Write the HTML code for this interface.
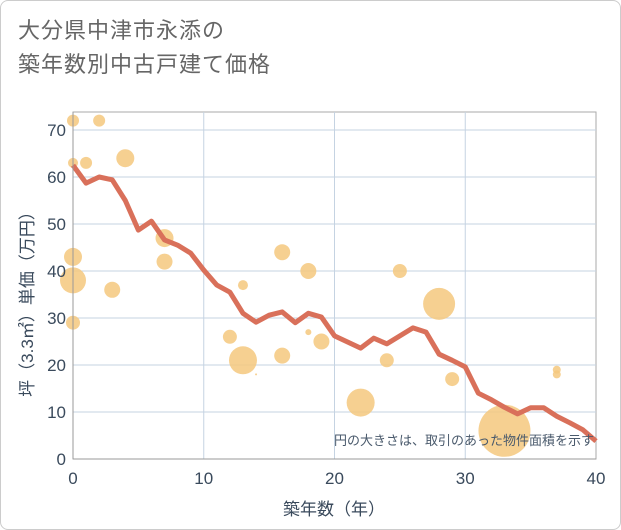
<!DOCTYPE html>
<html><head><meta charset="utf-8"><style>
body{margin:0;background:#fff}
#wrap{position:relative;width:621px;height:530px;font-family:"Liberation Sans","Noto Sans CJK JP",sans-serif}
#frame{position:absolute;left:0;top:0;width:619px;height:528px;border:1px solid #ccc;border-radius:8px}
#title{position:absolute;left:18px;top:14px;font-size:22px;line-height:34px;color:#666;letter-spacing:1px}
</style></head><body>
<div id="wrap">
<div id="frame"></div>
<div id="title">大分県中津市永添の<br>築年数別中古戸建て価格</div>
<svg id="svg" width="621" height="530" style="position:absolute;left:0;top:0"></svg>
</div>
<script>
const xTicks=[0,10,20,30,40];
const yTicks=[0,10,20,30,40,50,60,70];
const lineYears=[0,1,2,3,4,5,6,7,8,9,10,11,12,13,14,15,16,17,18,19,20,21,22,23,24,25,26,27,28,29,30,31,32,33,34,35,36,37,38,39,40];
const lineValues=[62.5,58.7,60,59.4,55,48.7,50.6,46.6,45.5,43.8,40.2,37,35.5,31,29.1,30.6,31.3,29,31,30.2,26.2,24.9,23.6,25.7,24.5,26.2,27.9,27,22.3,21,19.6,14,12.6,11,9.6,10.9,10.9,9.1,7.7,6.2,3.8];
const bubbleX=[0,2,0,1,4,0,0,3,0,7,7,13,12,13,16,18,16,18,19,14,22,24,25,28,29,33,37,37];
const bubbleY=[72,72,63,63,64,43,38,36,29,47,42,37,26,21,44,40,22,27,25,18,12,21,40,33,17,6,19,18];
const bubbleR=[6,6,5,6,9,9,13,8,7,9,8,5,7,14,8,8,8,3,8,1,14,7,7,16,7,26,4,4];
const L=73,R=596,T=112,B=459;
const xs=v=>L+(v-0)/40*(R-L);
const ys=v=>B-v/70*(B-130);
const svg=document.getElementById('svg');const NS='http://www.w3.org/2000/svg';
function mk(t,a){const e=document.createElementNS(NS,t);for(const k in a)e.setAttribute(k,a[k]);svg.appendChild(e);return e;}
const bg=mk('rect',{x:L,y:T,width:R-L,height:B-T,fill:'#fff',stroke:'#aaa'});


for(let i=10;i<40;i+=10){
 const g=mk('line',{x1:xs(i),x2:xs(i),y1:T,y2:B,stroke:'#c5d3e2'});
 
 
}
for(let v=10;v<=70;v+=10){
 const g=mk('line',{x1:L,x2:R,y1:ys(v),y2:ys(v),stroke:'#c5d3e2'});
 
 
}
for(let i=0;i<bubbleX.length;i++){
 const c=mk('circle',{cx:xs(bubbleX[i]),cy:ys(bubbleY[i]),r:bubbleR[i],fill:'#f5c87e',opacity:0.85});
 
 
}
const p=mk('polyline',{points:lineYears.map((x,i)=>xs(x)+','+ys(lineValues[i])).join(' '),fill:'none',stroke:'#d9705a','stroke-width':5,'stroke-linejoin':'round'});


const ax=mk('line',{x1:L,x2:L,y1:T,y2:B,stroke:'#999'});


const ax2=mk('line',{x1:L,x2:R,y1:B,y2:B,stroke:'#999'});


xTicks.forEach(v=>{const t=mk('text',{x:xs(v),y:484,'text-anchor':'middle','font-size':17,fill:'#3a4a5c'});t.textContent=v;
 
 });
yTicks.forEach(v=>{const t=mk('text',{x:66,y:ys(v)+6,'text-anchor':'end','font-size':17,fill:'#3a4a5c'});t.textContent=v;
 
 });
const xt=mk('text',{x:334,y:515,'text-anchor':'middle','font-size':17,fill:'#3a4a5c'});xt.textContent='築年数（年）';


const yt=mk('text',{x:0,y:0,'text-anchor':'middle','font-size':17,fill:'#3a4a5c',transform:'translate(33,300) rotate(-90)'});yt.textContent='坪（3.3㎡）単価（万円）';


const n=mk('text',{x:594,y:445,'text-anchor':'end','font-size':13,fill:'#4a5a6c'});n.textContent='円の大きさは、取引のあった物件面積を示す';


</script>
</body></html>
